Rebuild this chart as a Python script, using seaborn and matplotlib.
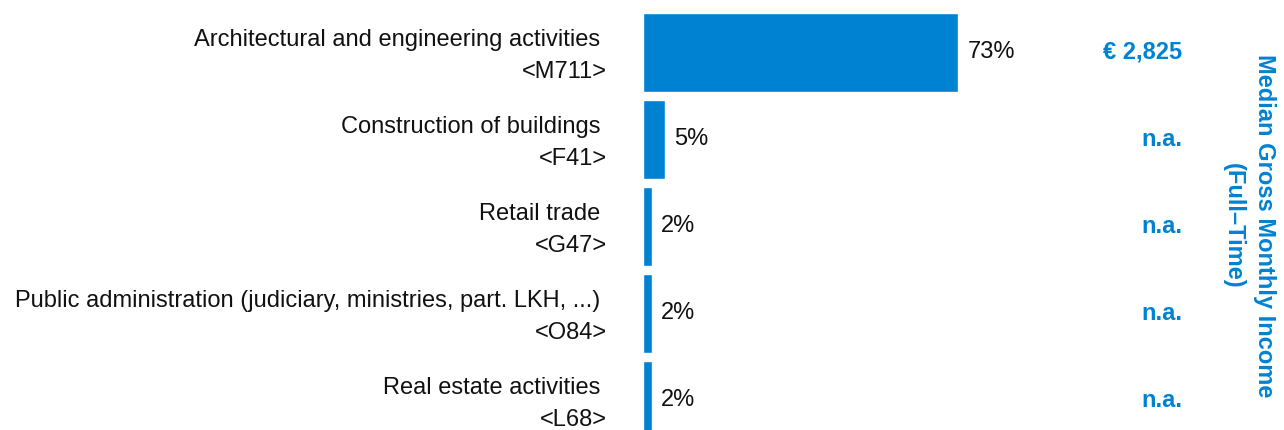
import matplotlib
matplotlib.use("Agg")
import matplotlib.pyplot as plt
import matplotlib.transforms as mtransforms
import seaborn as sns
import pandas as pd

categories = [
    "Architectural and engineering activities",
    "Construction of buildings",
    "Retail trade",
    "Public administration (judiciary, ministries, part. LKH, ...)",
    "Real estate activities",
]
codes = ["<M711>", "<F41>", "<G47>", "<O84>", "<L68>"]
shares = [73, 5, 2, 2, 2]
incomes = ["€ 2,825", "n.a.", "n.a.", "n.a.", "n.a."]
side_title = "Median Gross Monthly Income\n(Full–Time)"

BLUE = "#0082D2"
FS = 17

sns.set_theme(style="white")
plt.rcParams["font.family"] = ["Liberation Sans", "DejaVu Sans"]

labels = [f"{c} \n{k}" for c, k in zip(categories, codes)]
df = pd.DataFrame({"label": labels, "share": shares})

W, H = 1284, 430
fig = plt.figure(figsize=(W / 100, H / 100), dpi=100)
left_px, right_px = 643, 1182
ax = fig.add_axes([left_px / W, 0, (right_px - left_px) / W, 1])

sns.barplot(data=df, x="share", y="label", orient="h", color=BLUE,
            saturation=1, width=0.91, ax=ax)

px_per_unit = 315 / 73
ax.set_xlim(0, (right_px - left_px) / px_per_unit)
row = 87
c0 = 52.5
ax.set_ylim((H - c0) / row, -c0 / row)

ax.bar_label(ax.containers[0], labels=[f"{v}%" for v in shares],
             padding=7, fontsize=FS, color="#111111")

for i, inc in enumerate(incomes):
    ax.text(1.0, i, inc, transform=ax.get_yaxis_transform(), ha="right",
            va="center", fontsize=FS, fontweight="bold", color=BLUE)

ax.set_xlabel("")
ax.set_ylabel("")
ax.set_xticks([])
ax.tick_params(axis="y", length=0, pad=26, labelsize=FS, labelcolor="#111111")
shift = mtransforms.ScaledTranslation(0, 4 / 100, fig.dpi_scale_trans)
for lab in ax.get_yticklabels():
    lab.set_multialignment("right")
    lab.set_linespacing(1.6)
    lab.set_transform(lab.get_transform() + shift)
for s in ax.spines.values():
    s.set_visible(False)

fig.text(1249 / W, 1 - 226 / H, side_title, rotation=270, ha="center",
         va="center", multialignment="center", fontsize=FS,
         fontweight="bold", color=BLUE, linespacing=1.45)

fig.savefig("out.png", dpi=100)
